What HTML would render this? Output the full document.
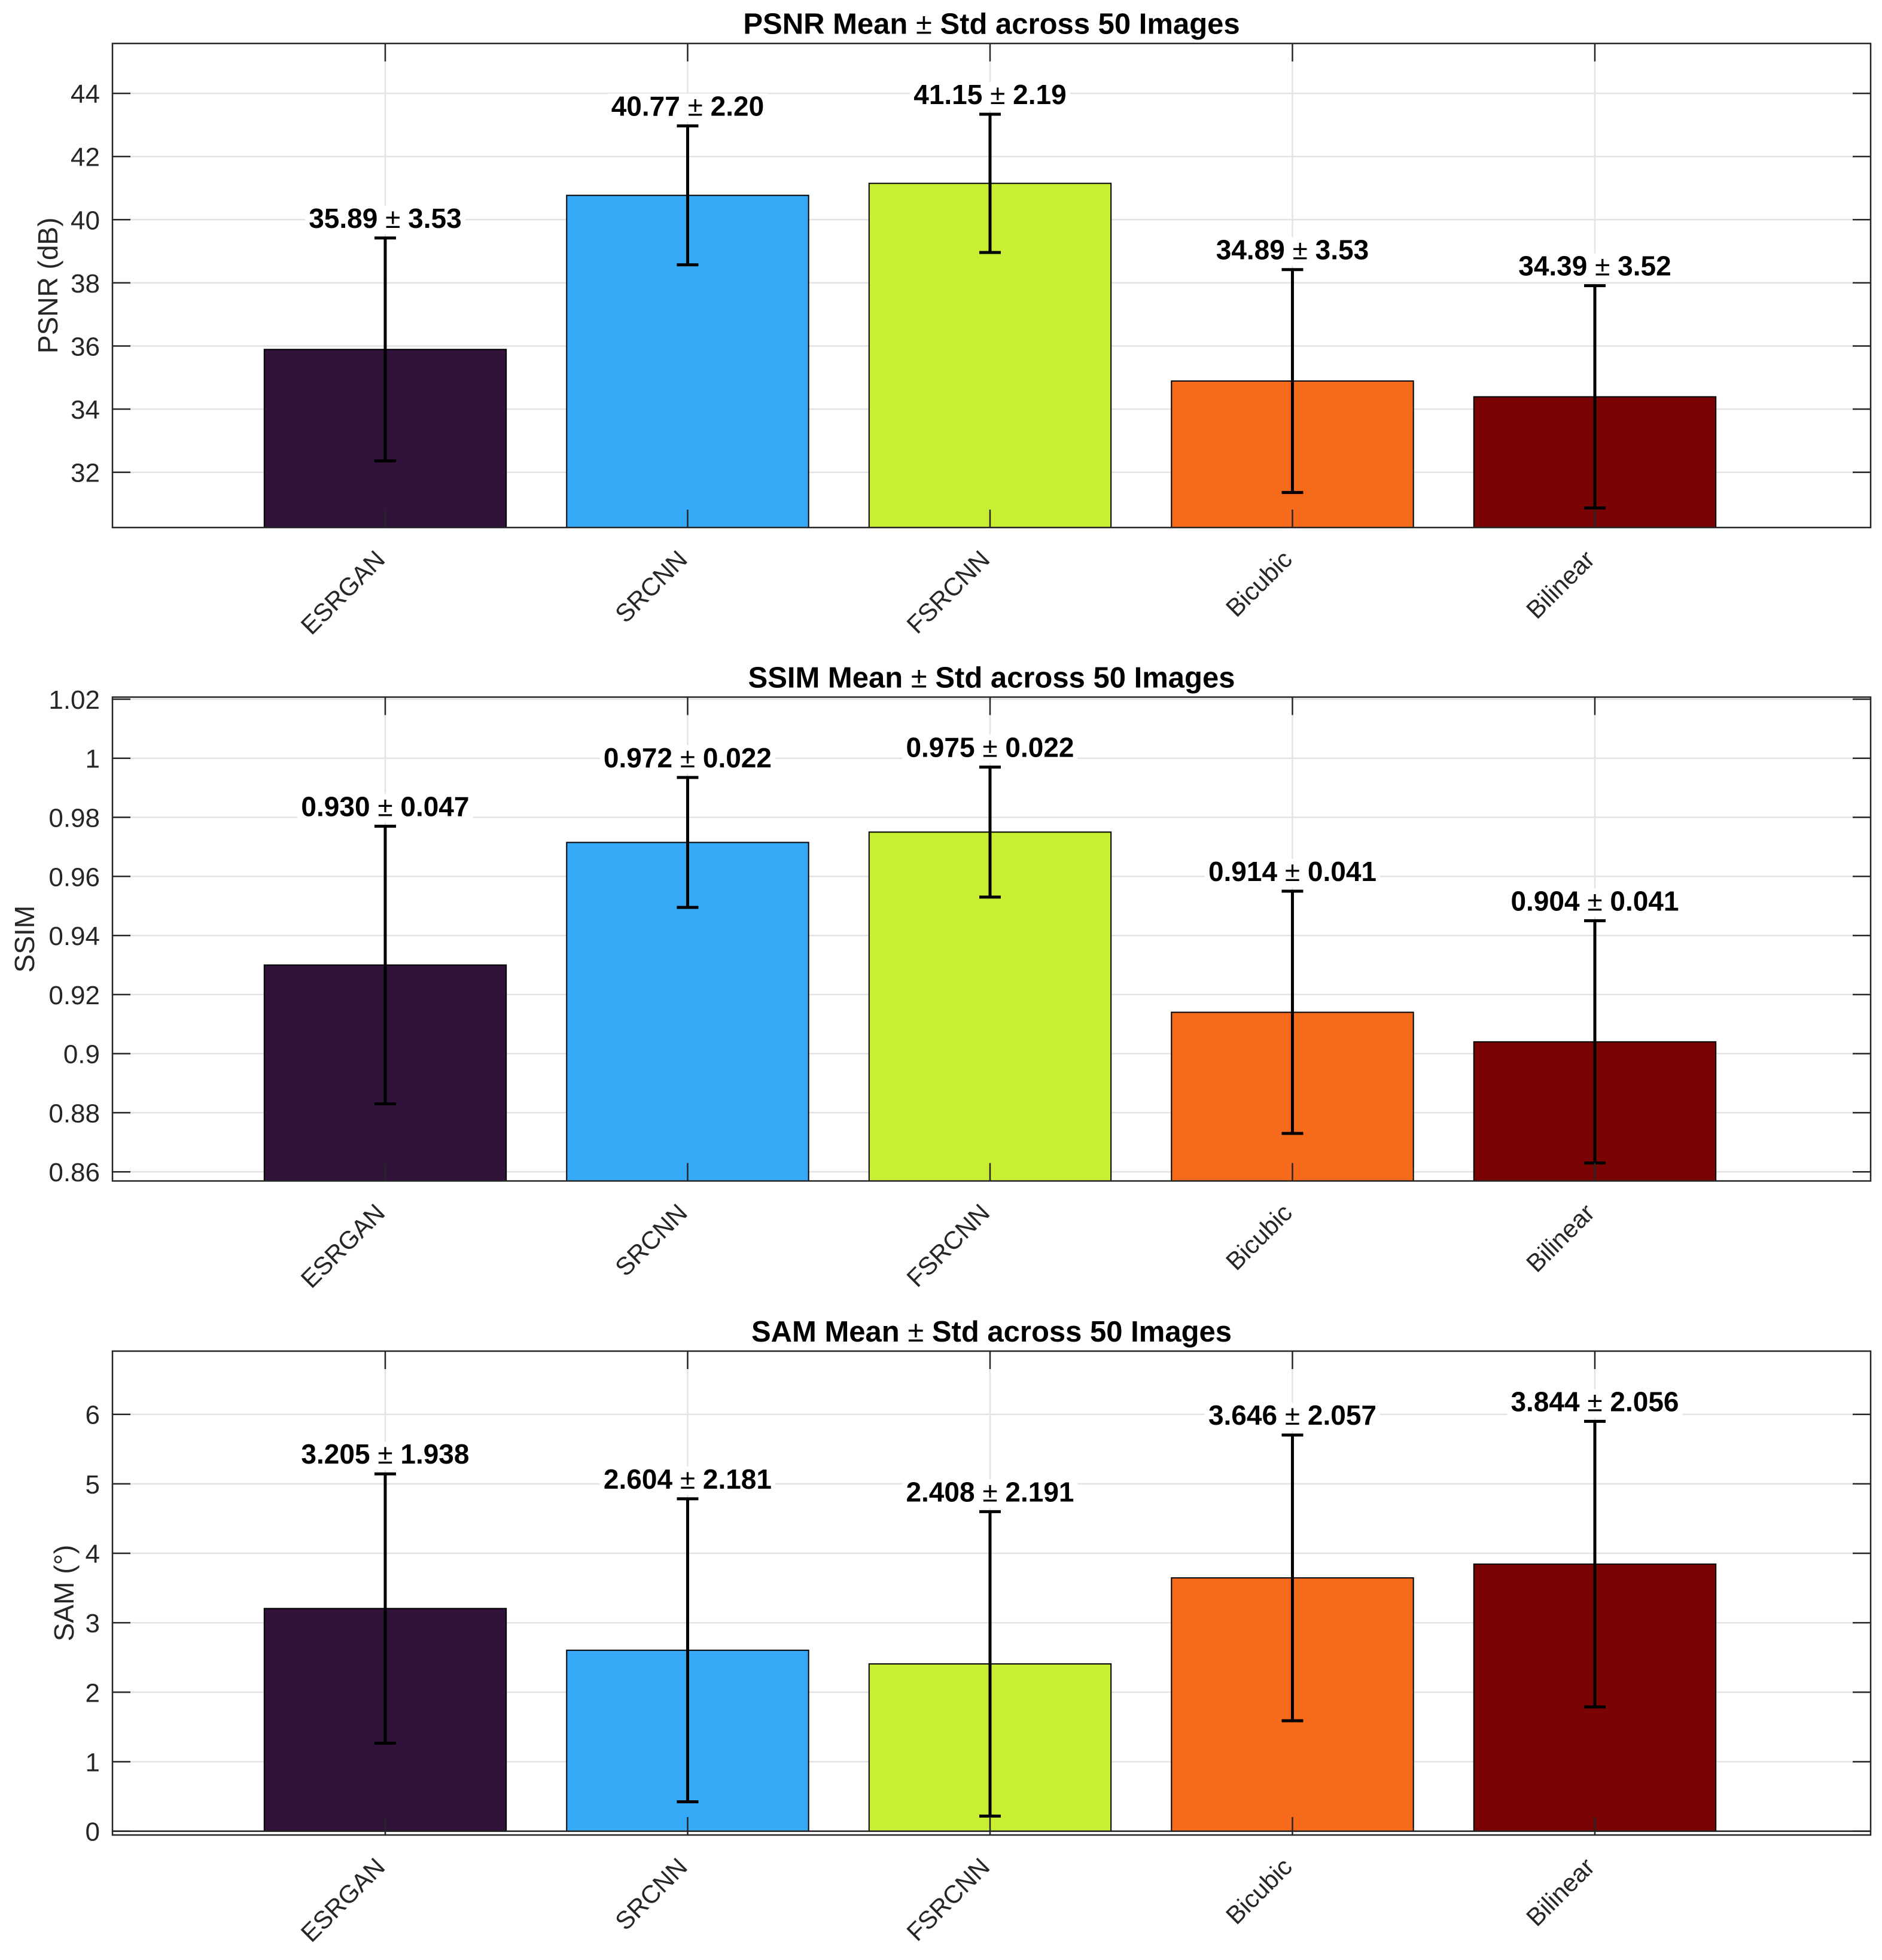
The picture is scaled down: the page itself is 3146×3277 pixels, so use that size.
<!DOCTYPE html>
<html><head><meta charset="utf-8"><style>
html,body{margin:0;padding:0;background:#fff;}
svg{display:block;font-family:"Liberation Sans",Arial,sans-serif;}
</style></head><body>
<svg id="fig" width="3146" height="3277" viewBox="0 0 3146 3277" xmlns="http://www.w3.org/2000/svg"></svg>
<script>
const categories = ["ESRGAN","SRCNN","FSRCNN","Bicubic","Bilinear"];
const barColors = ["#30123b","#36a9f7","#c8ef34","#f66b1b","#7a0403"];
const psnrMean = [35.89,40.77,41.15,34.89,34.39];
const psnrStd = [3.53,2.20,2.19,3.53,3.52];
const ssimMean = [0.930,0.9715,0.975,0.914,0.904];
const ssimStd = [0.047,0.022,0.022,0.041,0.041];
const samMean = [3.205,2.604,2.408,3.646,3.844];
const samStd = [1.938,2.181,2.191,2.057,2.056];
const psnrTicks = [32,34,36,38,40,42,44];
const ssimTicks = [0.86,0.88,0.9,0.92,0.94,0.96,0.98,1,1.02];
const samTicks = [0,1,2,3,4,5,6];
const psnrLabelsA = ["35.89","40.77","41.15","34.89","34.39"];
const psnrLabelsB = ["3.53","2.20","2.19","3.53","3.52"];
const ssimLabelsA = ["0.930","0.972","0.975","0.914","0.904"];
const ssimLabelsB = ["0.047","0.022","0.022","0.041","0.041"];
const samLabelsA = ["3.205","2.604","2.408","3.646","3.844"];
const samLabelsB = ["1.938","2.181","2.191","2.057","2.056"];

const NS = "http://www.w3.org/2000/svg";
const fig = document.getElementById('fig');
function mk(tag, attrs, parent){
  const e = document.createElementNS(NS, tag);
  for (const k in attrs) e.setAttribute(k, attrs[k]);
  (parent||fig).appendChild(e);
  return e;
}
const L = 188, R = 3127, XMIN = 0.098, XMAX = 5.912;
function xs(i){ return L + (i + 1 - XMIN) / (XMAX - XMIN) * (R - L); }
const BW = 0.8 * (R - L) / (XMAX - XMIN);

function panel(cfg){
  const {top, bot, ymin, ymax, ticks, mean, std, la, lb, titleA, titleB, ylabel, ylabelX, key, baseline} = cfg;
  const ys = v => bot - (v - ymin) / (ymax - ymin) * (bot - top);
  const g = mk('g', {});
  
  
  ticks.forEach(t => {
    const l = mk('line', {x1:L, x2:R, y1:ys(t), y2:ys(t), stroke:'#e3e3e3', 'stroke-width':2.5}, g);
    
    
  });
  categories.forEach((c, i) => {
    const l = mk('line', {x1:xs(i), x2:xs(i), y1:top, y2:bot, stroke:'#e3e3e3', 'stroke-width':2.5}, g);
    
    
  });
  categories.forEach((c, i) => {
    const y1 = ys(mean[i]);
    const b = mk('rect', {x:xs(i) - BW/2, y:y1, width:BW, height:(baseline ? ys(0) : bot) - y1, fill:barColors[i], stroke:'#000', 'stroke-width':2}, g);
    
    
  });
  if (baseline) {
    const bl = mk('line', {x1:L, x2:R, y1:ys(0), y2:ys(0), stroke:'#262626', 'stroke-width':2.5}, g);
    
    
  }
  categories.forEach((c, i) => {
    const x = xs(i), yt = ys(mean[i] + std[i]), yb = ys(mean[i] - std[i]);
    const eg = mk('g', {stroke:'#000', 'stroke-width':5}, g);
    
    
    mk('line', {x1:x, x2:x, y1:yt, y2:yb}, eg);
    mk('line', {x1:x-18, x2:x+18, y1:yt, y2:yt}, eg);
    mk('line', {x1:x-18, x2:x+18, y1:yb, y2:yb}, eg);
    const by = yt - 17;
    const bg = mk('rect', {x:x - 150, y:by - 37, width:300, height:48, fill:'#fff'}, g);
    
    
    const t = mk('text', {x:x, y:by, 'text-anchor':'middle', 'font-size':46, 'font-weight':'bold', fill:'#000'}, g);
    
    
    mk('tspan', {}, t).textContent = la[i] + ' ';
    mk('tspan', {'font-weight':'normal'}, t).textContent = '\u00b1';
    mk('tspan', {}, t).textContent = ' ' + lb[i];
    const w = t.getComputedTextLength ? t.getComputedTextLength() : 280;
    bg.setAttribute('x', x - w/2 - 6); bg.setAttribute('width', w + 12);
  });
  const box = mk('rect', {x:L, y:top, width:R-L, height:bot-top, fill:'none', stroke:'#262626', 'stroke-width':2.5}, g);
  
  
  ticks.forEach(t => {
    const y = ys(t);
    mk('line', {x1:L, x2:L+30, y1:y, y2:y, stroke:'#262626', 'stroke-width':2.5}, g);
    mk('line', {x1:R, x2:R-30, y1:y, y2:y, stroke:'#262626', 'stroke-width':2.5}, g);
    const tl = mk('text', {x:167, y:y + 16, 'text-anchor':'end', 'font-size':44, fill:'#262626'}, g);
    tl.textContent = String(t);
    
    
  });
  categories.forEach((c, i) => {
    const x = xs(i);
    mk('line', {x1:x, x2:x, y1:top, y2:top+30, stroke:'#262626', 'stroke-width':2.5}, g);
    mk('line', {x1:x, x2:x, y1:bot, y2:bot-30, stroke:'#262626', 'stroke-width':2.5}, g);
    const lx = x + 2, ly = bot + 56;
    const xl = mk('text', {x:lx, y:ly, 'text-anchor':'end', 'font-size':42, fill:'#262626', transform:'rotate(-45 ' + lx + ' ' + ly + ')'}, g);
    xl.textContent = c;
    
    
  });
  const tt = mk('text', {x:(L+R)/2, y:top - 16, 'text-anchor':'middle', 'font-size':49, 'font-weight':'bold', fill:'#000'}, g);
  
  
  mk('tspan', {}, tt).textContent = titleA + ' ';
  mk('tspan', {'font-weight':'normal'}, tt).textContent = '\u00b1';
  mk('tspan', {}, tt).textContent = ' ' + titleB;
  const cy = (top + bot) / 2;
  const yl = mk('text', {x:ylabelX, y:cy, 'text-anchor':'middle', 'font-size':46, fill:'#262626', transform:'rotate(-90 ' + ylabelX + ' ' + cy + ')'}, g);
  yl.textContent = ylabel;
  
  
}

panel({key:'psnr', top:72.7, bot:882, ymin:30.25, ymax:45.58, ticks:psnrTicks, mean:psnrMean, std:psnrStd, la:psnrLabelsA, lb:psnrLabelsB,
  titleA:'PSNR Mean', titleB:'Std across 50 Images', ylabel:'PSNR (dB)', ylabelX:96});
panel({key:'ssim', top:1165.5, bot:1974.5, ymin:0.8569, ymax:1.0207, ticks:ssimTicks, mean:ssimMean, std:ssimStd, la:ssimLabelsA, lb:ssimLabelsB,
  titleA:'SSIM Mean', titleB:'Std across 50 Images', ylabel:'SSIM', ylabelX:57});
panel({key:'sam', top:2259, bot:3068, ymin:-0.055, ymax:6.91, ticks:samTicks, mean:samMean, std:samStd, la:samLabelsA, lb:samLabelsB,
  titleA:'SAM Mean', titleB:'Std across 50 Images', ylabel:'SAM (\u00b0)', ylabelX:123, baseline:true});
</script>
</body></html>
